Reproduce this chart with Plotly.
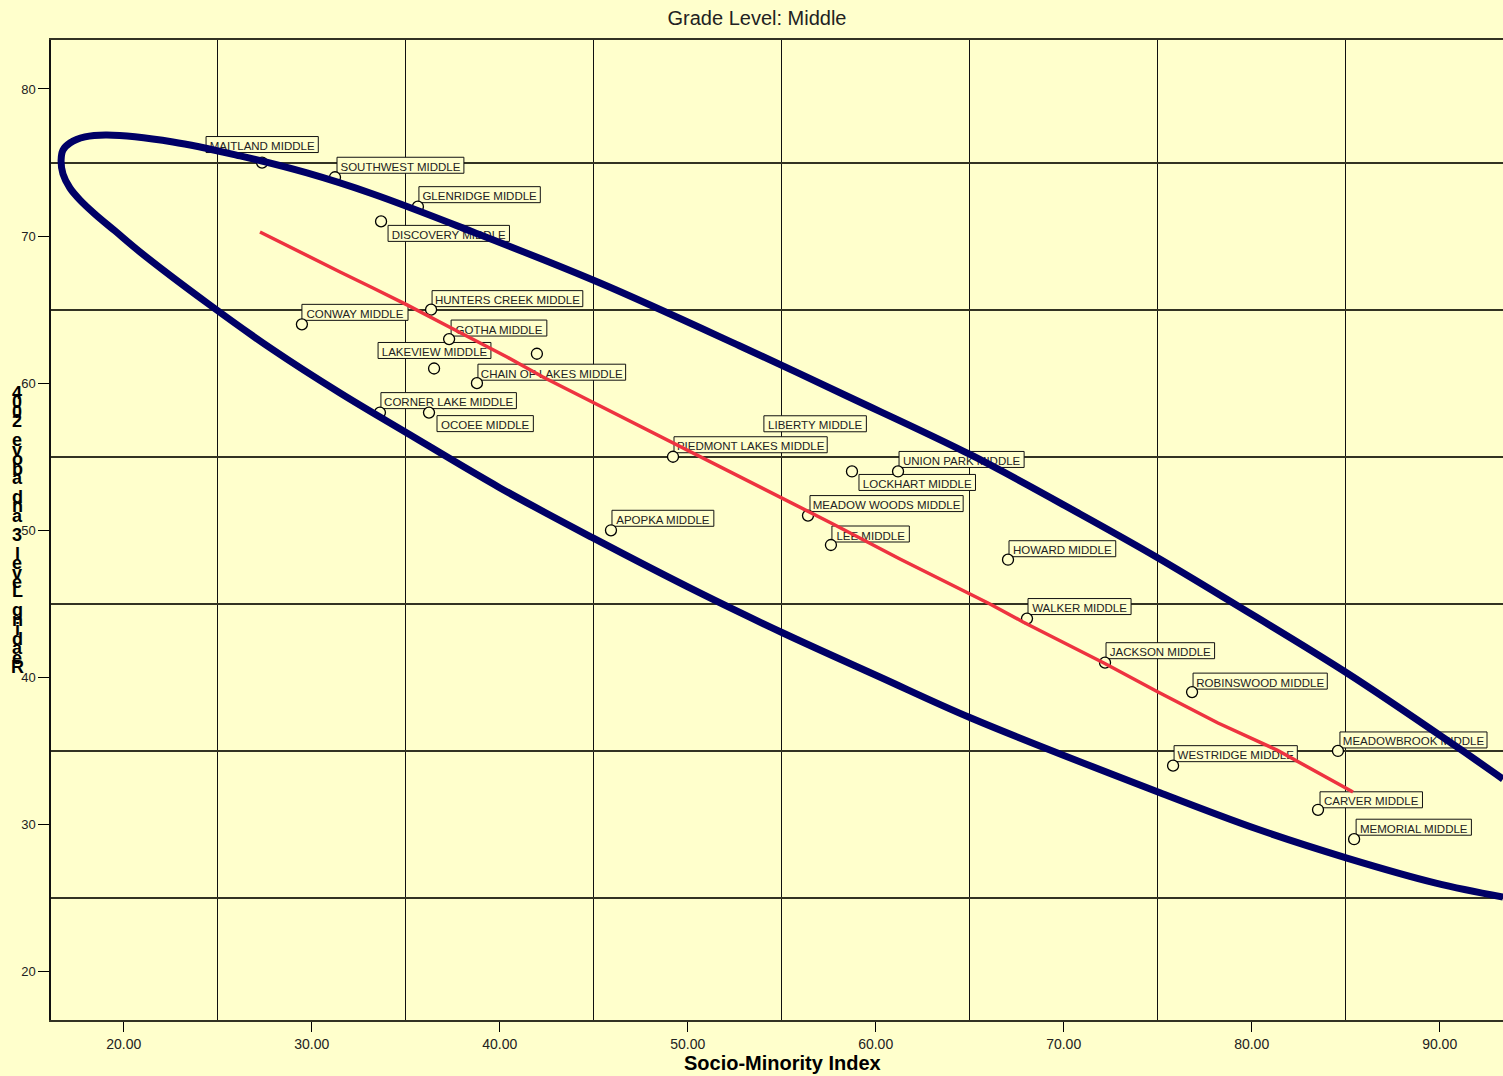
import plotly.graph_objects as go

# ---------------- data ----------------
schools = [
    "MAITLAND MIDDLE", "SOUTHWEST MIDDLE", "GLENRIDGE MIDDLE", "DISCOVERY MIDDLE",
    "CONWAY MIDDLE", "HUNTERS CREEK MIDDLE", "GOTHA MIDDLE", "LAKEVIEW MIDDLE",
    "LIBERTY MIDDLE", "CHAIN OF LAKES MIDDLE", "CORNER LAKE MIDDLE", "OCOEE MIDDLE",
    "PIEDMONT LAKES MIDDLE", "UNION PARK MIDDLE", "LOCKHART MIDDLE", "MEADOW WOODS MIDDLE",
    "LEE MIDDLE", "APOPKA MIDDLE", "HOWARD MIDDLE", "WALKER MIDDLE",
    "JACKSON MIDDLE", "ROBINSWOOD MIDDLE", "MEADOWBROOK MIDDLE", "WESTRIDGE MIDDLE",
    "CARVER MIDDLE", "MEMORIAL MIDDLE",
]
socio_minority = [
    27.36, 31.24, 35.65, 33.69,
    29.48, 36.35, 37.31, 36.51,
    41.98, 38.79, 33.63, 36.24,
    49.22, 61.19, 58.74, 56.40,
    57.62, 45.92, 67.04, 68.05,
    72.20, 76.83, 84.59, 75.82,
    83.53, 85.45,
]
reading_l3 = [
    75, 74, 72, 71,
    64, 65, 63, 61,
    62, 60, 58, 58,
    55, 54, 54, 51,
    49, 50, 48, 44,
    41, 39, 35, 34,
    31, 29,
]

# ellipse outline (upper branch right->left, then lower branch)
ellipse_x = [93.37, 90.92, 85.07, 79.01, 75.02, 70.87, 65.07, 58.47, 52.78, 45.34,
             38.58, 33.26, 29.75, 26.19, 22.62, 19.11, 17.94, 17.14, 16.77, 16.67,
             16.77, 17.14, 17.68, 18.47, 19.54, 20.87, 24.44, 27.95, 31.51, 35.07,
             40.02, 44.96, 50.65, 55.07, 60.22, 65.07, 75.02, 80.29, 85.07, 89.80,
             93.37]
ellipse_y = [33.09, 35.27, 40.30, 45.06, 48.12, 51.11, 55.12, 59.13, 62.53, 66.81,
             70.28, 72.86, 74.29, 75.45, 76.40, 76.87, 76.74, 76.33, 75.85, 75.17,
             74.22, 73.27, 72.45, 71.50, 70.35, 68.92, 65.45, 62.26, 59.33, 56.61,
             52.88, 49.48, 45.74, 43.02, 40.03, 37.24, 32.21, 29.69, 27.72, 26.02,
             25.07]

# fit line
fit_x = [27.25, 29.75, 31.51, 33.26, 35.07, 37.73, 40.39, 42.30, 45.34, 48.90,
         52.78, 55.07, 57.73, 61.29, 66.08, 67.84, 72.14, 75.02, 78.21, 81.35,
         83.47, 85.39]
fit_y = [70.28, 68.65, 67.56, 66.47, 65.32, 63.55, 61.78, 60.42, 58.45, 56.14,
         53.62, 52.13, 50.43, 48.05, 44.99, 43.77, 40.98, 39.01, 36.90, 35.06,
         33.57, 32.21]

x_tick_vals = [20, 30, 40, 50, 60, 70, 80, 90]
y_tick_vals = [20, 30, 40, 50, 60, 70, 80]

chart_title = "Grade Level: Middle"
x_title = "Socio-Minority Index"
y_title = "Reading Level 3 and above 2004"

# ---------------- label layout (pixel offsets of box from point) ----------------
label_dx = [-56, 2, 1, 7, 0, 1, 2, -56, 227, 1, 1, 8, 1, 1, 7, 2, 1, 1, 1, 1, 1, 1, 2, 1, 2, 2]
label_dy = [10, 4, 4, -20, 4, 3, 3, 10, -78, 3, 4, -19, 4, 4, -19, 4, 3, 4, 3, 4, 4, 3, 3, 4, 2, 4]

BG = "#FFFFCC"
FONT = "Liberation Sans, Arial, sans-serif"
NARROW = "Liberation Sans Narrow, Arial Narrow, Liberation Sans, Arial, sans-serif"

W, H = 1503, 1076
ML, MR, MT, MB = 51, 0, 40, 56
XR = [16.133, 93.37]
YR = [16.71, 83.33]
PX_X = (W - ML - MR) / (XR[1] - XR[0])   # pixels per x unit
PX_Y = (H - MT - MB) / (YR[1] - YR[0])   # pixels per y unit

# Arial advance widths (em) for sizing the label boxes
AW = {"A": .667, "B": .667, "C": .722, "D": .722, "E": .667, "F": .611, "G": .778,
      "H": .722, "I": .278, "J": .5, "K": .667, "L": .556, "M": .833, "N": .722,
      "O": .778, "P": .667, "R": .722, "S": .667, "T": .611, "U": .722, "V": .667,
      "W": .944, "Y": .667, " ": .278}
BOX_EM = 11
LABEL_SIZE = 11.5
BOX_H = 16


def box_width(s):
    return sum(AW.get(c, .667) for c in s) * BOX_EM + 12


fig = go.Figure()

fig.add_trace(go.Scatter(
    x=socio_minority, y=reading_l3, mode="markers",
    marker=dict(symbol="circle", size=11, color=BG, line=dict(color="#000000", width=1.3)),
    text=schools, hoverinfo="text", showlegend=False,
))
fig.add_trace(go.Scatter(
    x=ellipse_x, y=ellipse_y, mode="lines",
    line=dict(color="#000066", width=7, shape="spline", smoothing=1.0),
    hoverinfo="skip", showlegend=False,
))
fig.add_trace(go.Scatter(
    x=fit_x, y=fit_y, mode="lines",
    line=dict(color="#EE3340", width=3.5),
    hoverinfo="skip", showlegend=False,
))

shapes = []
for name, xv, yv, dx, dy in zip(schools, socio_minority, reading_l3, label_dx, label_dy):
    w = box_width(name)
    shapes.append(dict(
        type="rect", xref="x", yref="y",
        x0=xv + dx / PX_X, x1=xv + (dx + w) / PX_X,
        y0=yv + dy / PX_Y, y1=yv + (dy + BOX_H) / PX_Y,
        line=dict(color="#111111", width=1), fillcolor=BG, layer="between",
        label=dict(text=name, font=dict(family=FONT, size=LABEL_SIZE, color="#222222"),
                   textposition="middle center", padding=0),
    ))

annotations = []
# stacked y-axis title, read bottom-to-top
rev = y_title[::-1]
for i, ch in enumerate(rev):
    if ch == " ":
        continue
    ypx = 393 + i * 9.45
    annotations.append(dict(
        text=ch, xref="paper", yref="paper", x=0, xshift=-34,
        y=(H - MB - ypx) / (H - MT - MB), xanchor="center", yanchor="middle",
        showarrow=False, font=dict(family=FONT, size=18, color="#000000", weight="bold"),
    ))
annotations.append(dict(
    text=x_title, xref="paper", yref="paper", x=(782 - ML) / (W - ML - MR),
    y=(H - MB - 1063) / (H - MT - MB),
    xanchor="center", yanchor="middle", showarrow=False,
    font=dict(family=NARROW, size=20, color="#000000", weight="bold"),
))

fig.update_layout(
    width=W, height=H,
    margin=dict(l=ML, r=MR, t=MT, b=MB),
    paper_bgcolor=BG, plot_bgcolor=BG,
    font=dict(family=FONT, color="#222222"),
    title=dict(text=chart_title, x=757 / W, xref="container", xanchor="center",
               y=1 - 18 / H, yref="container", yanchor="middle",
               font=dict(family=FONT, size=20, color="#222222")),
    showlegend=False,
    hovermode="closest",
    shapes=shapes,
    annotations=annotations,
)

fig.update_xaxes(
    range=XR, tickmode="array", tickvals=x_tick_vals, tickformat=".2f",
    ticks="outside", ticklen=10, tickcolor="#000000", tickwidth=1,
    tickfont=dict(family=NARROW, size=14, color="#222222"),
    showgrid=False, zeroline=False,
    showline=True, linecolor="#333322", linewidth=2, mirror=True,
    minor=dict(tick0=5, dtick=10, showgrid=True, gridcolor="#111111", gridwidth=1, ticks=""),
)
fig.update_yaxes(
    range=YR, tickmode="array", tickvals=y_tick_vals,
    ticks="outside", ticklen=11, tickcolor="#000000", tickwidth=1,
    tickfont=dict(family=FONT, size=13, color="#222222"),
    showgrid=False, zeroline=False,
    showline=True, linecolor="#111111", linewidth=1.5, mirror=False,
    minor=dict(tick0=5, dtick=10, showgrid=True, gridcolor="#333322", gridwidth=1.5, ticks=""),
)

fig.write_html(
    "out.html",
    config={"displayModeBar": False},
    post_script="document.body.style.margin='0';document.body.style.overflow='hidden';",
)
